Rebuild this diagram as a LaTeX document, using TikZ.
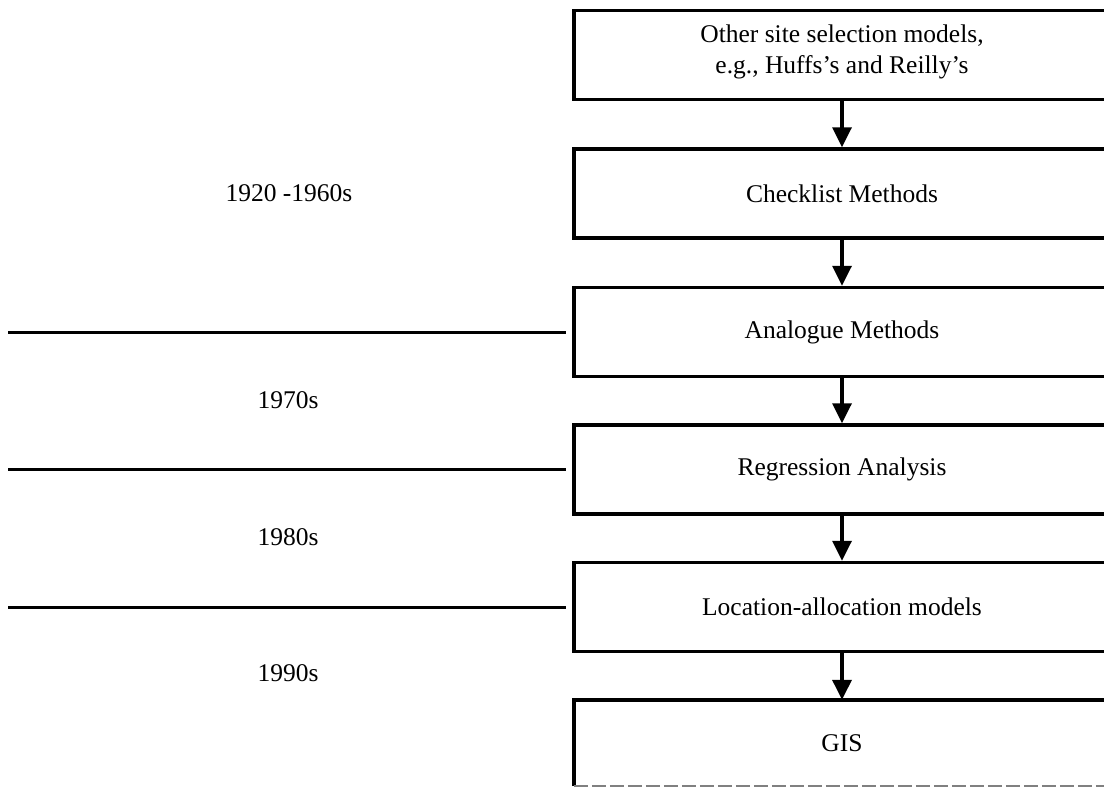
\documentclass[tikz,border=0pt]{standalone}
\usepackage{fontspec}
\setmainfont{Liberation Serif}
\usetikzlibrary{arrows.meta}
\begin{document}
\begin{tikzpicture}[x=1pt,y=-1pt,
  txt/.style={font=\fontsize{25.5}{31}\selectfont, inner sep=0pt, align=center},
  stage/.style={txt, draw, line width=3.5pt, minimum width=536pt, minimum height=89pt},
  openstage/.style={txt, minimum width=536pt, minimum height=86pt},
  flow/.style={line width=3.5pt, -{Triangle[length=20pt,width=19pt]}},
  divider/.style={line width=3pt, shorten >=6pt}]
\useasboundingbox (0,0) rectangle (1104,787);

% method boxes, running off the right edge
\node[stage] (b1) at (842,55) {};
\node[txt] (b1t) at (842,52) {Other site selection models,\\ e.g., Huffs's and Reilly's};
\node[stage] (b2) at (842,193.5) {Checklist Methods};
\node[stage] (b3) at (842,332) {Analogue Methods};
\node[stage] (b4) at (842,469.5) {Regression Analysis};
\node[stage] (b5) at (842,607) {Location-allocation models};
\node[openstage] (b6) at (842,743) {GIS};
\draw[line width=3.5pt] (b6.south west) -- (b6.north west) -- (b6.north east);
\draw[line width=1.5pt, gray, dash pattern=on 14pt off 4pt] (b6.south west) -- (b6.south east);

% flow between the methods
\draw[flow] (b1) -- (b2);
\draw[flow] (b2) -- (b3);
\draw[flow] (b3) -- (b4);
\draw[flow] (b4) -- (b5);
\draw[flow] (b5) -- (b6);

% period dividers
\coordinate (d1) at (8,332);
\coordinate (d2) at (8,469.5);
\coordinate (d3) at (8,607);
\draw[divider] (d1) -- (b3.west);
\draw[divider] (d2) -- (b4.west);
\draw[divider] (d3) -- (b5.west);

% period labels
\node[txt] (p1) at (289,193.5) {1920 -1960s};
\node[txt] (p2) at (288,400) {1970s};
\node[txt] (p3) at (288,537) {1980s};
\node[txt] (p4) at (288,673) {1990s};
\end{tikzpicture}
\end{document}
